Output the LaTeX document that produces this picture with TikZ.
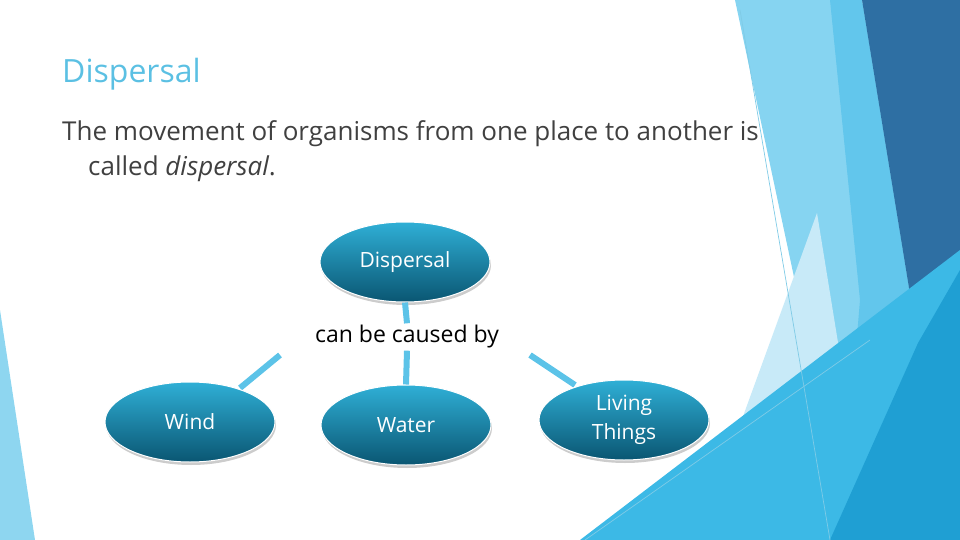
\documentclass[tikz,border=0pt]{standalone}
\usepackage{fontspec}
\setmainfont{Open Sans}
\usetikzlibrary{shapes.geometric,shadows}
\definecolor{ttl}{HTML}{5BC0E3}
\definecolor{txt}{HTML}{404040}
\definecolor{conn}{HTML}{5CC3E8}
\definecolor{etop}{HTML}{2FAFD6}
\definecolor{ebot}{HTML}{0A5672}
\tikzset{
 bub/.style={ellipse,minimum width=170pt,minimum height=80pt,inner sep=0pt,top color=etop,bottom color=ebot,draw=white,line width=1pt,text=white,font=\fontsize{21}{29}\selectfont,align=center,drop shadow={shadow xshift=1pt,shadow yshift=-3pt,fill=black!40}},
 conline/.style={conn,line width=6pt}
}
\begin{document}
\begin{tikzpicture}[x=1pt,y=-1pt]
\useasboundingbox (0,0) rectangle (960,540);
% decoration
\fill[fill={rgb,255:red,134;green,212;blue,241}] (735,0)--(862,0)--(960,540)--(850,540)--cycle;
\fill[fill={rgb,255:red,98;green,198;blue,236}] (830,0)--(862,0)--(918,343)--(880,540)--(840,540)--(860,300)--cycle;
\fill[fill={rgb,255:red,200;green,234;blue,248}] (817,213)--(698,540)--(870,540)--cycle;
\fill[fill={rgb,255:red,46;green,111;blue,163}] (862,0)--(960,0)--(960,270)--(918,343)--cycle;
\fill[fill={rgb,255:red,60;green,185;blue,230}] (580,540)--(960,250)--(960,540)--cycle;
\fill[fill={rgb,255:red,31;green,159;blue,211}] (830,540)--(918,343)--(960,270)--(960,540)--cycle;
\fill[fill={rgb,255:red,142;green,214;blue,240}] (0,310)--(35,540)--(0,540)--cycle;
\draw[draw={rgb,255:red,127;green,203;blue,230},line width=0.7pt] (740,10)--(830,540);
\draw[draw={rgb,255:red,127;green,203;blue,230},line width=0.7pt] (585,540)--(870,340);
% text
\node[anchor=west,text=ttl,font=\fontsize{32}{36}\selectfont,inner sep=0] (title) at (62,74) {Dispersal};
\node[anchor=north west,text=txt,font=\fontsize{26}{35}\selectfont,align=left,inner sep=0] (body) at (62,120) {The movement of organisms from one place to another is\\\hspace*{26pt}called \textit{dispersal}.};
% diagram
\node[font=\fontsize{23}{26}\selectfont,text=black,fill=white,inner sep=2pt] (lab) at (407,337) {can be caused by};
\coordinate (c1) at (280,355);
\coordinate (c2) at (530,355);
\draw[conline] (c1) -- (240,388) coordinate (e1);
\draw[conline] (c2) -- (575,385) coordinate (e2);
\node[bub] (d) at (405,262) {Dispersal};
\node[bub] (w) at (190,422) {Wind};
\node[bub] (wa) at (406,425) {Water};
\node[bub] (l) at (624,420) {Living\\Things};
\draw[conline] (d.south) -- (lab.north);
\draw[conline] (lab.south) -- (wa.north);
\end{tikzpicture}
\end{document}
